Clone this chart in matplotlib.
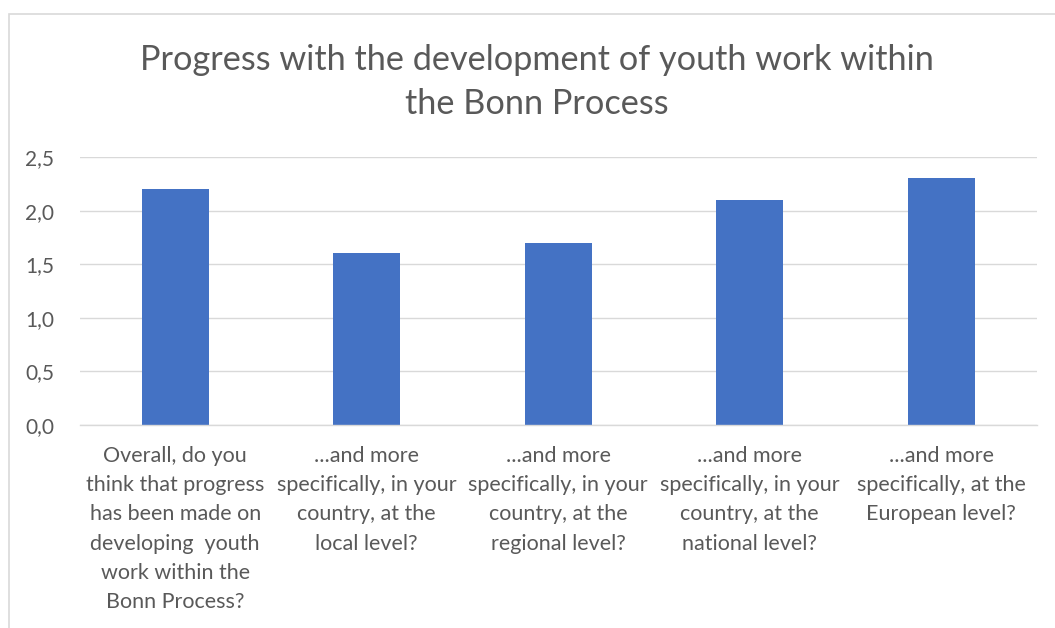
import matplotlib.pyplot as plt
from matplotlib.patches import Rectangle

categories = [
    "Overall, do you\nthink that progress\nhas been made on\ndeveloping  youth\nwork within the\nBonn Process?",
    "...and more\nspecifically, in your\ncountry, at the\nlocal level?",
    "...and more\nspecifically, in your\ncountry, at the\nregional level?",
    "...and more\nspecifically, in your\ncountry, at the\nnational level?",
    "...and more\nspecifically, at the\nEuropean level?",
]
scores = [2.2, 1.6, 1.7, 2.1, 2.3]
yticks = [0.0, 0.5, 1.0, 1.5, 2.0, 2.5]
ytick_labels = ["0,0", "0,5", "1,0", "1,5", "2,0", "2,5"]

plt.rcParams["font.family"] = ["Lato", "DejaVu Sans"]
text_color = "#595959"

fig = plt.figure(figsize=(10.55, 6.28), dpi=100)
W, H = 1055, 628
ax = fig.add_axes([79.5 / W, (H - 425) / H, (1037 - 79.5) / W, (425 - 157) / H])

x = range(len(categories))
ax.bar(x, scores, width=0.35, color="#4472C4", zorder=3)

ax.set_xlim(-0.5, len(categories) - 0.5)
ax.set_ylim(0, 2.5)
ax.set_yticks(yticks)
ax.set_yticklabels(ytick_labels, fontsize=15, color=text_color)
ax.set_xticks(list(x))
ax.set_xticklabels(categories, fontsize=15.5, color=text_color, linespacing=1.58, va="top")
ax.tick_params(axis="both", length=0)
ax.tick_params(axis="y", pad=18)
ax.tick_params(axis="x", pad=15)
ax.grid(axis="y", color="#D9D9D9", linewidth=1, zorder=0)
for side in ["top", "right", "left"]:
    ax.spines[side].set_visible(False)
ax.spines["bottom"].set_color("#D9D9D9")
ax.spines["bottom"].set_linewidth(1)
ax.spines["bottom"].set_zorder(4)

fig.text(537 / W, 1 - 82 / H, "Progress with the development of youth work within\nthe Bonn Process",
         ha="center", va="center", fontsize=24.7, color=text_color, linespacing=1.47)

# outer chart frame
fig.patches.append(Rectangle((8.5 / W, -0.01), 1.2, 1 - 13.5 / H + 0.01, transform=fig.transFigure,
                             fill=False, edgecolor="#D9D9D9", linewidth=1.2))

fig.savefig("out.png", dpi=100)
